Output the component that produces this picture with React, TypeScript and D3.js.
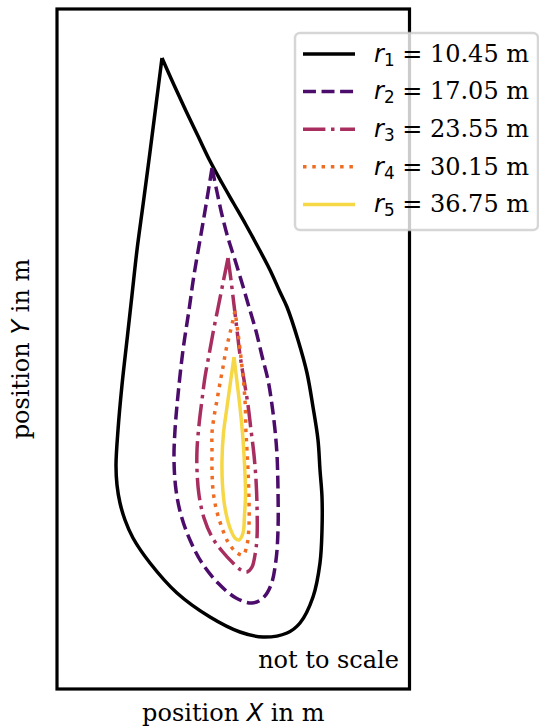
import React from "react";
import * as d3 from "d3";

// Contour outlines (X, Y in plot units, Y up), one per radius; each starts and ends at the tip
const contourR1: [number, number][] = [
  [105, 631], [99, 584], [93, 537], [86, 484], [80, 439], [75, 394], [70, 349], [65, 304],
  [61, 259], [59, 224], [60, 204], [63, 186], [68, 169], [76, 151], [93, 126], [120, 96],
  [153, 72], [183, 57], [206, 52], [230, 56], [243, 66], [256, 92], [263, 126], [265, 159],
  [265, 192], [263, 219], [261, 249], [256, 282], [250, 316], [241, 349], [230, 382], [223, 397],
  [213, 419], [201, 442], [189, 464], [177, 485], [165, 506], [153, 528], [141, 553], [129, 578],
  [117, 604], [105, 631],
];
const contourR2: [number, number][] = [
  [155, 521], [149, 484], [143, 449], [137, 414], [132, 379], [126, 339], [121, 294], [118, 259],
  [117, 229], [119, 199], [124, 174], [133, 149], [145, 126], [161, 106], [179, 91], [195, 86],
  [206, 91], [214, 104], [219, 129], [221, 159], [221, 199], [220, 234], [218, 259], [215, 284],
  [211, 309], [205, 333], [199, 358], [192, 382], [185, 406], [178, 429], [171, 451], [165, 474],
  [160, 497], [155, 521],
];
const contourR3: [number, number][] = [
  [171, 431], [166, 406], [161, 381], [156, 356], [152, 334], [148, 312], [145, 289], [142, 264],
  [140, 239], [140, 219], [142, 194], [147, 171], [155, 152], [165, 138], [176, 126], [184, 119],
  [190, 117], [195, 122], [198, 134], [200, 151], [200, 184], [199, 209], [197, 234], [194, 259],
  [191, 284], [187, 309], [183, 334], [180, 359], [177, 384], [174, 409], [171, 431],
];
const contourR4: [number, number][] = [
  [178, 378], [173, 356], [169, 339], [166, 322], [163, 306], [160, 289], [157, 272], [155, 256],
  [155, 239], [155, 219], [156, 199], [159, 181], [164, 164], [171, 147], [179, 137], [186, 134],
  [190, 144], [192, 164], [192, 189], [191, 219], [190, 239], [189, 256], [188, 289], [185, 322],
  [181, 356], [178, 378],
];
const contourR5: [number, number][] = [
  [177, 332], [173.5, 307], [170, 282], [166.5, 256], [165, 229], [165.5, 204], [168, 181],
  [173, 161], [178, 151], [182, 149], [186, 156], [187.5, 174], [188.5, 194], [188, 214],
  [187, 234], [185.5, 256], [183, 282], [180, 307], [177, 332],
];

const radii = [10.45, 17.05, 23.55, 30.15, 36.75];
const colorPositions = [0, 0.225, 0.45, 0.675, 0.9];
const dashPatterns = ["", "12.95,5.6", "22.4,5.6,3.5,5.6", "3.5,5.78", ""];
const contours = [contourR1, contourR2, contourR3, contourR4, contourR5];

const W = 539;
const H = 727;
const left = 57, right = 409.5, top = 9, bottom = 689;

export default function App() {
  const x = d3.scaleLinear().domain([0, 352.5]).range([left, right]);
  const y = d3.scaleLinear().domain([0, 680]).range([bottom, top]);
  const line = d3
    .line<[number, number]>()
    .x((d) => x(d[0]))
    .y((d) => y(d[1]))
    .curve(d3.curveCatmullRom.alpha(0.5));

  const colors = colorPositions.map((t) => (t === 0 ? "#000000" : d3.interpolateInferno(t)));
  const fs = 24;
  const legX = 295, legY = 33, legW = 243, legH = 197;
  const rowY = (i: number) => 54 + i * 37.6;
  const lw = 3.5;

  return (
    <svg width={W} height={H} style={{ position: "absolute", left: 0, top: 0, background: "#fff" }}>
      <rect x={0} y={0} width={W} height={H} fill="#fff" />
      {contours.map((c, i) => (
        <path
          key={i}
          d={line(c) || ""}
          fill="none"
          stroke={colors[i]}
          strokeWidth={lw}
          strokeDasharray={dashPatterns[i] || undefined}
          strokeLinejoin="round"
          strokeLinecap="butt"
        />
      ))}
      <rect x={left} y={top} width={right - left} height={bottom - top} fill="none" stroke="#000" strokeWidth={3.2} />
      <text x={399} y={668} textAnchor="end" fontFamily="DejaVu Serif" fontSize={fs}>
        not to scale
      </text>
      <text x={(left + right) / 2} y={721} textAnchor="middle" fontFamily="DejaVu Serif" fontSize={fs}>
        position <tspan fontFamily="DejaVu Sans" fontStyle="italic">X</tspan> in m
      </text>
      <text
        transform={`translate(29,${(top + bottom) / 2}) rotate(-90)`}
        textAnchor="middle"
        fontFamily="DejaVu Serif"
        fontSize={fs}
      >
        position <tspan fontFamily="DejaVu Sans" fontStyle="italic">Y</tspan> in m
      </text>
      <g>
        <rect
          x={legX}
          y={legY}
          width={legW}
          height={legH}
          rx={5}
          fill="#fff"
          fillOpacity={0.8}
          stroke="#cccccc"
          strokeOpacity={0.8}
          strokeWidth={2.5}
        />
        {radii.map((r, i) => (
          <g key={i}>
            <line
              x1={303}
              x2={355}
              y1={rowY(i)}
              y2={rowY(i)}
              stroke={colors[i]}
              strokeWidth={lw}
              strokeDasharray={dashPatterns[i] || undefined}
            />
            <text x={374} y={rowY(i) + 7.7} fontFamily="DejaVu Serif" fontSize={fs}>
              <tspan fontFamily="DejaVu Sans" fontStyle="italic">r</tspan>
              <tspan fontFamily="DejaVu Sans" fontSize={fs * 0.7} dy={4}>{i + 1}</tspan>
              <tspan dy={-4}> = {r.toFixed(2)} m</tspan>
            </text>
          </g>
        ))}
      </g>
    </svg>
  );
}
